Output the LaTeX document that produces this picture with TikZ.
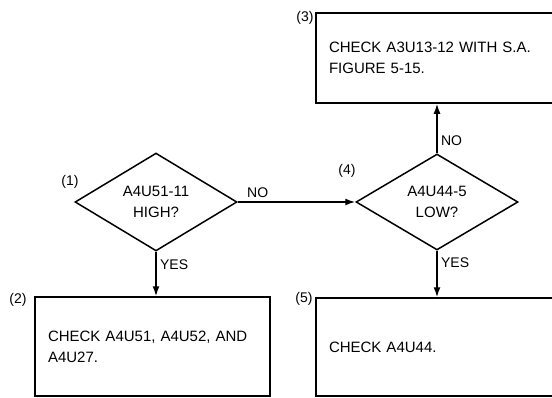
\documentclass[tikz,border=0pt]{standalone}
\usepackage{fontspec}
\setmainfont{Liberation Sans}
\usepackage{tikz}
\usetikzlibrary{arrows.meta,positioning,shapes.geometric}

\tikzset{
  decision/.style={diamond, draw, line width=1.5pt, inner sep=0pt, minimum width=162pt, minimum height=96pt, align=center},
  checkbox/.style={rectangle, draw, line width=1.5pt, inner xsep=13pt, align=left},
  tag/.style={font=\fontsize{14}{15}\selectfont},
}

\begin{document}
\begin{tikzpicture}[x=1pt, y=1pt, yscale=-1, >={Latex[length=10pt,width=7pt]}, every node/.style={font=\fontsize{15}{21}\selectfont}]
\useasboundingbox (0,0) rectangle (552,397);
% decisions
\node[decision] (q1) at (156,202) {A4U51-11\\HIGH?};
\node[decision] (q4) at (437,202) {A4U44-5\\LOW?};
% checks
\node[checkbox, minimum width=235pt, minimum height=99pt, text width=209pt] (c2) at (152.5,346.5) {CHECK A4U51, A4U52, AND\\A4U27.};
\node[checkbox, minimum width=256pt, minimum height=90pt, text width=230pt] (c3) at (444,58) {CHECK A3U13-12 WITH S.A.\\FIGURE 5-15.};
\node[checkbox, minimum width=256pt, minimum height=98pt, text width=230pt] (c5) at (444,347) {CHECK A4U44.};
% step numbers
\node[tag] (n1) at (70,182) {(1)};
\node[tag] (n2) at (18,300) {(2)};
\node[tag] (n3) at (305,18) {(3)};
\node[tag] (n4) at (347,171) {(4)};
\node[tag] (n5) at (304,299) {(5)};
% flow
\draw[->, line width=1.5pt] (q1.east) -- (q4.west) node[pos=0.17, above, tag] {NO};
\draw[->, line width=1.5pt] (q1.south) -- (q1.south |- c2.north) node[pos=0.3, right, tag] {YES};
\draw[->, line width=1.5pt] (q4.north) -- (q4.north |- c3.south) node[pos=0.25, right, tag] {NO};
\draw[->, line width=1.5pt] (q4.south) -- (q4.south |- c5.north) node[pos=0.25, right, tag] {YES};
\end{tikzpicture}
\end{document}
